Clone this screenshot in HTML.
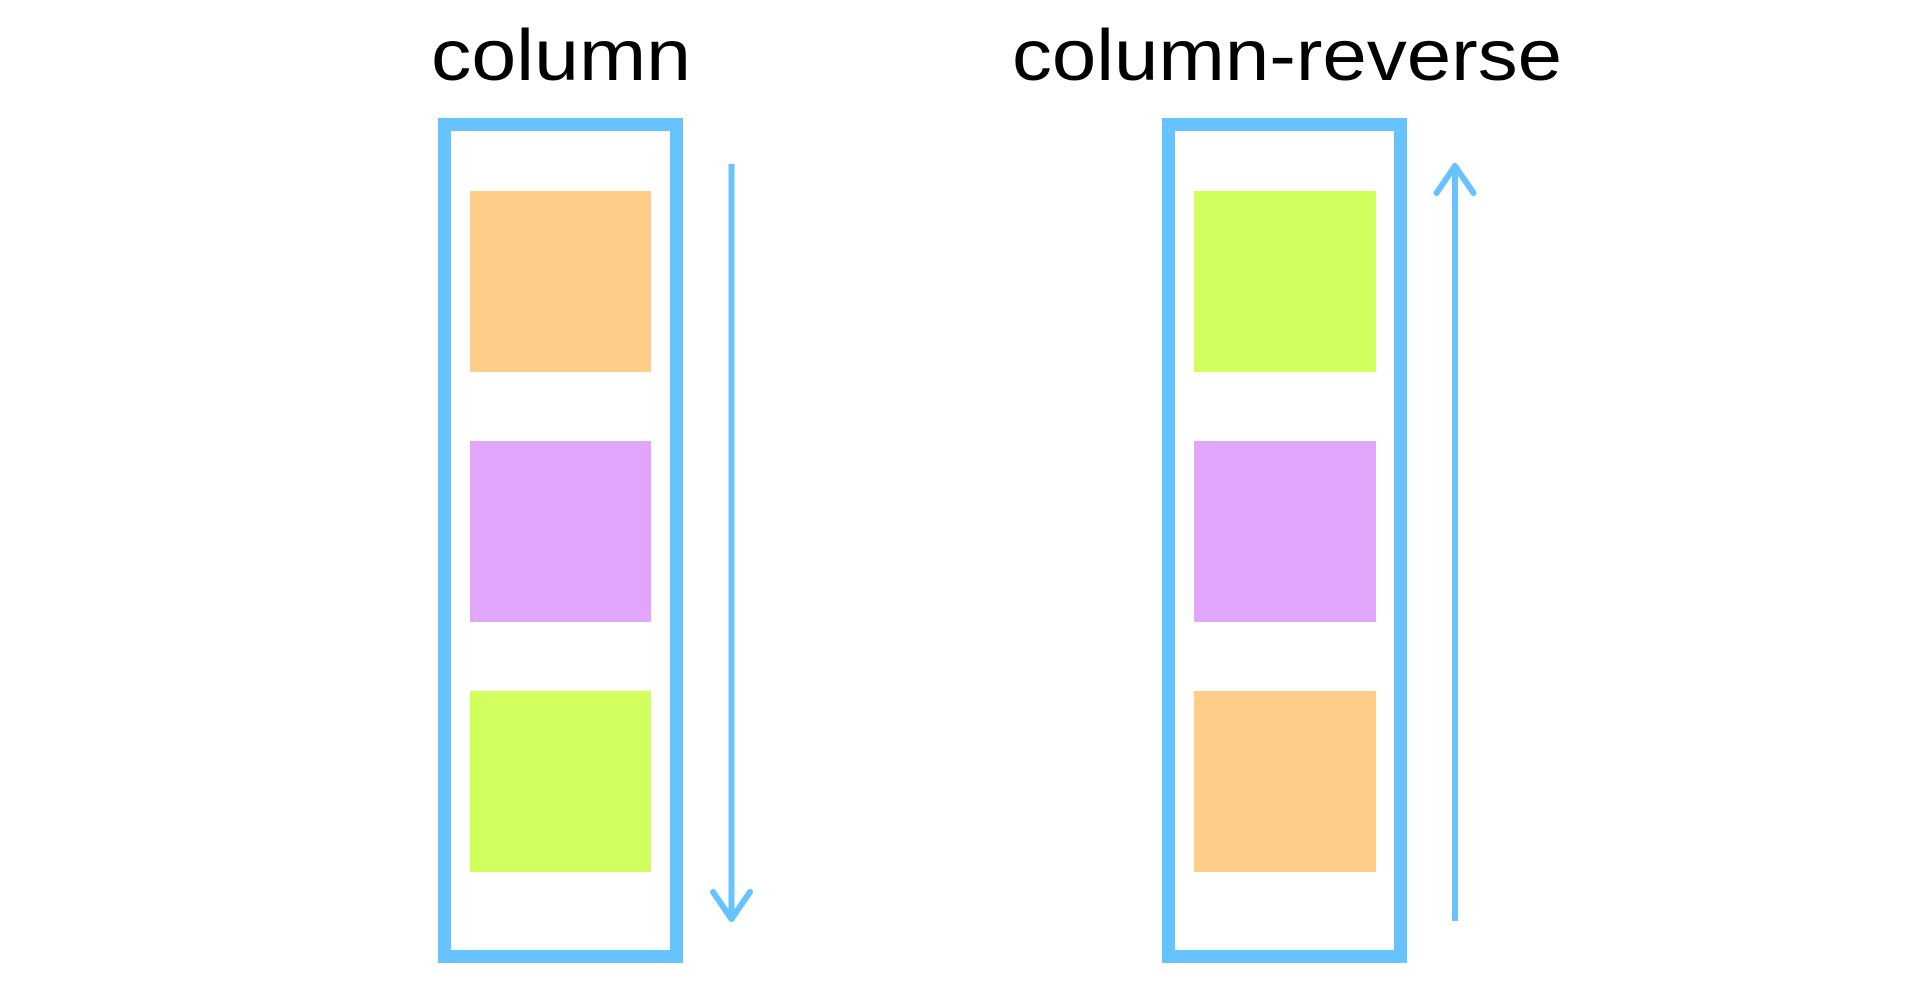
<!DOCTYPE html>
<html><head><meta charset="utf-8"><style>
html,body{margin:0;padding:0;background:#fff;width:1920px;height:993px;overflow:hidden}
svg{display:block}
</style></head><body>
<svg width="1920" height="993" viewBox="0 0 1920 993">
  <g>
    <text x="561" y="80" text-anchor="middle" font-family="Liberation Sans, sans-serif" font-size="72" textLength="260" lengthAdjust="spacingAndGlyphs" fill="#000">column</text>
    <rect x="444.5" y="124.5" width="232" height="832" fill="none" stroke="#66c3ff" stroke-width="13"/>
    <rect x="470" y="191" width="181" height="181" fill="#fecd87"/>
    <rect x="470" y="441" width="181" height="181" fill="#e2a5fc"/>
    <rect x="470" y="691" width="181" height="181" fill="#d1ff5d"/>
    <g stroke="#66c3ff" fill="none" stroke-width="6" stroke-linecap="round" stroke-linejoin="round">
      <line x1="731.5" y1="164" x2="731.5" y2="918" stroke-linecap="butt"/>
      <polyline points="713,892 731.5,919 750,892"/>
    </g>
  </g>
  <g>
    <text x="1287" y="80" text-anchor="middle" font-family="Liberation Sans, sans-serif" font-size="72" textLength="550" lengthAdjust="spacingAndGlyphs" fill="#000">column-reverse</text>
    <rect x="1168.5" y="124.5" width="232" height="832" fill="none" stroke="#66c3ff" stroke-width="13"/>
    <rect x="1194" y="191" width="182" height="181" fill="#d1ff5d"/>
    <rect x="1194" y="441" width="182" height="181" fill="#e2a5fc"/>
    <rect x="1194" y="691" width="182" height="181" fill="#fecd87"/>
    <g stroke="#66c3ff" fill="none" stroke-width="6" stroke-linecap="round" stroke-linejoin="round">
      <line x1="1455" y1="168" x2="1455" y2="921" stroke-linecap="butt"/>
      <polyline points="1436.5,193 1455,166 1473.5,193"/>
    </g>
  </g>
</svg>
</body></html>
